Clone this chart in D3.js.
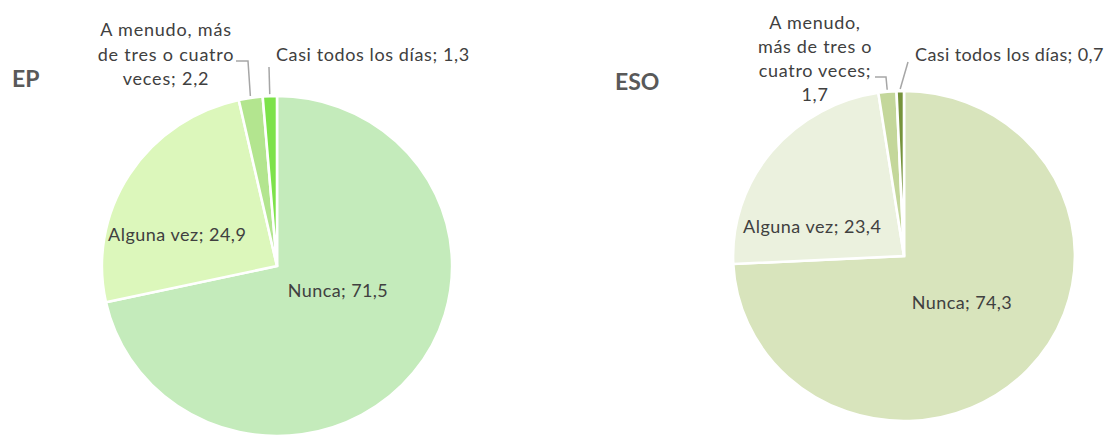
<!DOCTYPE html>
<html><head><meta charset="utf-8">
<script src="https://cdn.jsdelivr.net/npm/d3@7"></script>
<style>
body{margin:0;background:#fff;}
svg{display:block;font-family:Lato, "Open Sans", sans-serif;}
</style></head>
<body><svg id="c" width="1114" height="437"></svg>
<script>
const categories = ["Nunca", "Alguna vez", "A menudo, más de tres o cuatro veces", "Casi todos los días"];
const titles = ["EP", "ESO"];
const epValues = [71.5, 24.9, 2.2, 1.3];
const esoValues = [74.3, 23.4, 1.7, 0.7];
const epColors = ["#c4ebbb", "#dcf7bb", "#b3e58f", "#7de24a"];
const esoColors = ["#d8e4bc", "#ebf1de", "#c4d79b", "#76933c"];
const epLabelLines = [["Nunca; 71,5"], ["Alguna vez; 24,9"], ["A menudo, más", "de tres o cuatro", "veces; 2,2"], ["Casi todos los días; 1,3"]];
const esoLabelLines = [["Nunca; 74,3"], ["Alguna vez; 23,4"], ["A menudo,", "más de tres o", "cuatro veces;", "1,7"], ["Casi todos los días; 0,7"]];

const svg = d3.select("#c");

const charts = [
  {title: titles[0], values: epValues, colors: epColors, lines: epLabelLines,
   cx: 277, cy: 266, r: 170, sx: 1.03, tx: 12, ty: 87,
   lab: [{x: 338, y: 297, a: "middle", ls: 0.4}, {x: 108, y: 241, a: "start", ls: 0.5},
         {x: 166, y: 36, a: "middle", dy: 24.5, ls: 0.8, lead: [[236, 61], [248, 61]]},
         {x: 276, y: 61, a: "start", ls: 0.6, lead: [[269, 67]]}]},
  {title: titles[1], values: esoValues, colors: esoColors, lines: esoLabelLines,
   cx: 904, cy: 256, r: 165, sx: 1.036, tx: 615, ty: 90,
   lab: [{x: 962, y: 309, a: "middle", ls: 0.4}, {x: 743, y: 233, a: "start", ls: 0.5},
         {x: 815, y: 29, a: "middle", dy: 24, ls: 0.7, lead: [[875, 77], [886, 77]]},
         {x: 915, y: 61, a: "start", ls: 0.4, lead: [[908, 62]]}]}
];

charts.forEach(ch => {
  const pie = d3.pie().sort(null).value(d => d).startAngle(0).endAngle(2 * Math.PI);
  const arcs = pie(ch.values);
  const arc = d3.arc().innerRadius(0).outerRadius(ch.r);
  const g = svg.append("g").attr("transform", `translate(${ch.cx},${ch.cy}) scale(${ch.sx},1)`);
  g.selectAll("path").data(arcs).join("path")
    .attr("d", arc)
    .attr("fill", (d, i) => ch.colors[i])
    .attr("stroke", "#fff").attr("stroke-width", 2.5).attr("stroke-linejoin", "miter");

  svg.append("text").attr("x", ch.tx).attr("y", ch.ty)
    .attr("font-size", 23).attr("font-weight", "bold").attr("fill", "#595959")
    .text(ch.title);

  arcs.forEach((d, i) => {
    const L = ch.lab[i];
    const t = svg.append("text").attr("x", L.x).attr("y", L.y)
      .attr("text-anchor", L.a).attr("font-size", 18).attr("fill", "#404040")
      .attr("letter-spacing", L.ls);
    ch.lines[i].forEach((s, k) => {
      t.append("tspan").attr("x", L.x).attr("y", L.y + k * (L.dy || 24)).text(s);
    });
    if (L.lead) {
      const mid = (d.startAngle + d.endAngle) / 2;
      const rr = ch.r + 2;
      const px = ch.cx + ch.sx * rr * Math.sin(mid);
      const py = ch.cy - rr * Math.cos(mid);
      const pts = L.lead.concat([[px, py]]);
      svg.append("path").attr("d", d3.line()(pts))
        .attr("fill", "none").attr("stroke", "#a6a6a6").attr("stroke-width", 1.5);
    }
  });
});
</script></body></html>
